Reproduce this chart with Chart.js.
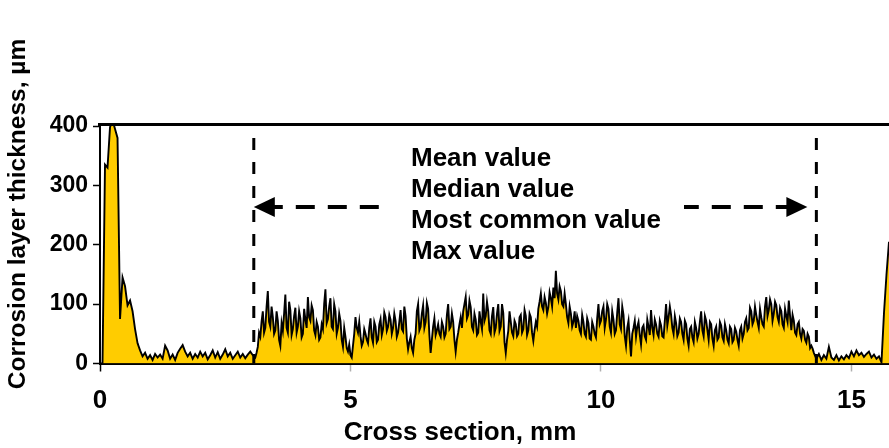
<!DOCTYPE html>
<html>
<head>
<meta charset="utf-8">
<title>Corrosion layer thickness profile</title>
<script src="https://cdn.jsdelivr.net/npm/chart.js@4/dist/chart.umd.min.js"></script>
<style>
  html, body { margin: 0; padding: 0; background: #fff; }
  canvas { display: block; }
</style>
</head>
<body>
<canvas id="profile" width="889" height="448"></canvas>
<script>
// Thickness readings (µm), grouped by stretch of the cross section.
// Coarse stretches are sampled every 0.05 mm.
const coarseStepMm = 0.05;

const entryEdge = [ // 0.00 – 0.80 mm
  0, 0, 335, 330, 398, 410, 395, 380, 75, 145, 130, 98, 106, 88, 58, 34, 22
];
const leftPlateau = [ // 0.85 – 3.05 mm
  12, 18, 8, 14, 6, 16, 10, 15, 8, 30,
  22, 8, 15, 6, 18, 25, 31, 20, 12, 18,
  8, 16, 10, 20, 12, 18, 7, 14, 22, 10,
  19, 8, 15, 24, 12, 18, 8, 14, 20, 10,
  16, 9, 15, 20, 14
];

// Measured zone 3.10 – 14.25 mm: readings on the 0.05 mm grid ...
const measuredZone = [
  10, 28, 45, 88, 60, 122, 62, 78, 56, 72, 30, 55, 116, 52, 90, 58, 94, 62, 76, 50,
  74, 112, 72, 90, 48, 62, 44, 58, 125, 75, 110, 58, 88, 60, 72, 28, 45, 20, 14, 30,
  78, 52, 46, 36, 50, 34, 76, 35, 62, 40, 75, 58, 78, 62, 74, 60, 72, 52, 90, 54,
  80, 24, 45, 18, 50, 100, 62, 98, 70, 92, 18, 62, 48, 66, 45, 62, 50, 100, 62, 70,
  20, 52, 78, 88, 112, 82, 95, 56, 74, 52, 70, 118, 80, 88, 50, 95, 60, 100, 62, 85,
  18, 55, 70, 46, 66, 50, 82, 58, 80, 56, 78, 38, 70, 92, 118, 90, 102, 95, 110, 128,
  156, 108, 122, 96, 100, 68, 84, 70, 60, 72, 50, 70, 45, 68, 40, 62, 44, 100, 72, 96,
  74, 92, 52, 74, 56, 110, 58, 82, 30, 72, 12, 60, 45, 70, 32, 64, 40, 62, 90, 48,
  66, 45, 64, 44, 100, 78, 82, 50, 68, 52, 70, 40, 66, 30, 62, 36, 60, 50, 88, 46,
  72, 40, 66, 30, 62, 44, 64, 38, 56, 34, 58, 40, 54, 30, 62, 50, 76, 60, 88, 72,
  82, 60, 78, 62, 112, 90, 100, 84, 98, 70, 88, 60, 80, 106, 56, 72, 48, 70, 42, 55,
  35, 45, 30, 18
];
// ... and the readings half-way between them (3.125 – 14.225 mm)
const measuredZoneMid = [
  18, 52, 70, 52, 95, 70, 96, 50, 88, 40, 68, 84, 60, 104, 48, 80, 52, 88, 44, 92,
  60, 78, 98, 56, 70, 40, 66, 100, 68, 96, 62, 100, 50, 84, 40, 60, 26, 32, 10, 50,
  60, 70, 30, 58, 40, 60, 44, 70, 36, 66, 48, 86, 55, 82, 50, 84, 45, 70, 58, 96,
  42, 36, 26, 40, 88, 56, 84, 60, 102, 48, 40, 76, 56, 50, 70, 44, 82, 58, 84, 40,
  40, 66, 60, 100, 76, 106, 62, 84, 48, 88, 58, 72, 104, 56, 80, 52, 84, 55, 100, 36,
  40, 88, 52, 72, 46, 78, 52, 90, 48, 84, 52, 56, 62, 104, 96, 112, 84, 120, 96, 110,
  118, 130, 100, 118, 78, 96, 62, 88, 80, 56, 82, 50, 76, 42, 70, 50, 76, 66, 88, 60,
  100, 62, 88, 50, 86, 66, 96, 46, 60, 40, 50, 72, 62, 48, 60, 46, 74, 48, 60, 74,
  50, 72, 46, 72, 64, 96, 60, 80, 46, 76, 50, 72, 42, 58, 44, 70, 42, 70, 56, 80,
  56, 70, 42, 56, 40, 70, 44, 66, 40, 62, 36, 60, 40, 56, 42, 70, 56, 94, 66, 96,
  70, 92, 66, 96, 80, 108, 72, 104, 78, 94, 66, 92, 70, 80, 82, 52, 66, 50, 58, 40,
  50, 26, 25
];

const rightPlateau = [ // 14.30 – 15.60 mm
  8, 16, 6, 14, 8, 28, 10, 6, 14, 5, 12, 7, 14, 9, 20, 12, 22, 14, 18, 11,
  16, 20, 10, 15, 8, 12, 2
];
const exitEdge = [ // 15.65 – 15.75 mm
  85, 150, 205
];

// Axis ticks
const xTickValues = [0, 5, 10, 15];
const yTickValues = [0, 100, 200, 300, 400];

// Evaluation window and its labels
const windowStartMm = 3.07;
const windowEndMm = 14.3;
const statLabels = ['Mean value', 'Median value', 'Most common value', 'Max value'];

// Assemble the profile as {x, y} points
function coarsePoints(values, startMm) {
  return values.map((v, i) => ({ x: +(startMm + i * coarseStepMm).toFixed(3), y: v }));
}
const zonePoints = [];
measuredZone.forEach((v, i) => {
  const xMm = 3.10 + i * coarseStepMm;
  zonePoints.push({ x: +xMm.toFixed(3), y: v });
  if (i < measuredZoneMid.length) {
    zonePoints.push({ x: +(xMm + coarseStepMm / 2).toFixed(3), y: measuredZoneMid[i] });
  }
});
const profilePoints = [
  ...coarsePoints(entryEdge, 0),
  ...coarsePoints(leftPlateau, 0.85),
  ...zonePoints,
  ...coarsePoints(rightPlateau, 14.30),
  ...coarsePoints(exitEdge, 15.65)
];

const FONT = '"Liberation Sans", Arial, Helvetica, sans-serif';

const overlay = {
  id: 'overlay',
  afterDraw(chart) {
    const { ctx, chartArea: a, scales: { x } } = chart;
    ctx.save();

    // Frame line along the top of the plot
    ctx.strokeStyle = '#000';
    ctx.lineWidth = 3;
    ctx.beginPath();
    ctx.moveTo(a.left - 2, a.top - 1.5);
    ctx.lineTo(a.right, a.top - 1.5);
    ctx.stroke();

    // Dashed window boundaries
    const xs = x.getPixelForValue(windowStartMm);
    const xe = x.getPixelForValue(windowEndMm);
    ctx.lineWidth = 3;
    ctx.setLineDash([12, 12]);
    [xs, xe].forEach(px => {
      ctx.beginPath();
      ctx.moveTo(px, a.top + 12);
      ctx.lineTo(px, a.bottom);
      ctx.stroke();
    });

    // Double-headed dashed arrow across the window
    const ay = 207;
    const tipL = xs;
    const tipR = xe - 9;
    const head = 21, half = 10;
    ctx.lineWidth = 4;
    ctx.setLineDash([19, 13]);
    ctx.beginPath();
    ctx.moveTo(tipL + 10, ay);
    ctx.lineTo(tipR - 10, ay);
    ctx.stroke();
    ctx.setLineDash([]);
    ctx.fillStyle = '#000';
    ctx.beginPath();
    ctx.moveTo(tipL, ay);
    ctx.lineTo(tipL + head, ay - half);
    ctx.lineTo(tipL + head, ay + half);
    ctx.closePath();
    ctx.fill();
    ctx.beginPath();
    ctx.moveTo(tipR, ay);
    ctx.lineTo(tipR - head, ay - half);
    ctx.lineTo(tipR - head, ay + half);
    ctx.closePath();
    ctx.fill();

    // Label block with white backing
    ctx.fillStyle = '#fff';
    ctx.fillRect(390, 140, 294, 124);
    ctx.fillStyle = '#000';
    ctx.font = `bold 26px ${FONT}`;
    ctx.textAlign = 'left';
    ctx.textBaseline = 'middle';
    statLabels.forEach((t, i) => ctx.fillText(t, 411, 159 + i * 31));

    // Axis titles
    ctx.font = `bold 26px ${FONT}`;
    ctx.textAlign = 'center';
    ctx.fillText('Cross section, mm', 460, 433);
    ctx.save();
    ctx.translate(18, 214);
    ctx.rotate(-Math.PI / 2);
    ctx.font = `bold 24.5px ${FONT}`;
    ctx.fillText('Corrosion layer thickness, \u00b5m', 0, 0);
    ctx.restore();

    ctx.restore();
  }
};

new Chart(document.getElementById('profile'), {
  type: 'line',
  data: {
    datasets: [{
      data: profilePoints,
      borderColor: '#000',
      borderWidth: 1.9,
      backgroundColor: '#FFCC00',
      fill: 'origin',
      pointRadius: 0,
      tension: 0
    }]
  },
  options: {
    responsive: false,
    devicePixelRatio: 1,
    animation: false,
    layout: { padding: { top: 126, right: 0, left: 0, bottom: 0 } },
    plugins: { legend: { display: false }, tooltip: { enabled: false } },
    scales: {
      x: {
        type: 'linear',
        min: 0,
        max: 15.75,
        afterBuildTicks: s => { s.ticks = xTickValues.map(v => ({ value: v })); },
        afterFit: s => { s.height = 84.5; },
        border: { color: '#000', width: 2 },
        grid: {
          drawOnChartArea: false,
          tickLength: 8,
          tickWidth: 1.5,
          tickColor: c => (c.tick && c.tick.value === 0 ? '#000' : '#b0b0b0')
        },
        ticks: {
          autoSkip: false,
          maxRotation: 0,
          padding: 14,
          color: '#000',
          font: { family: FONT, size: 26, weight: 'bold' }
        }
      },
      y: {
        min: 0,
        max: 400,
        afterBuildTicks: s => { s.ticks = yTickValues.map(v => ({ value: v })); },
        afterFit: s => { s.width = 100; },
        border: { color: '#000', width: 2 },
        grid: { drawOnChartArea: false, tickLength: 7, tickWidth: 1.5, tickColor: '#000' },
        ticks: {
          padding: 5,
          color: '#000',
          font: { family: FONT, size: 23, weight: 'bold' }
        }
      }
    }
  },
  plugins: [overlay]
});
</script>
</body>
</html>
